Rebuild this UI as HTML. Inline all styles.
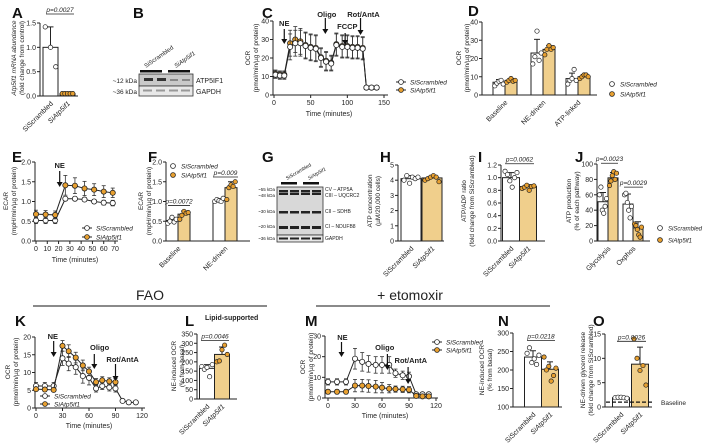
<!DOCTYPE html>
<html><head><meta charset="utf-8"><style>
html,body{margin:0;padding:0;background:#fff;width:705px;height:446px;overflow:hidden}
svg{font-family:"Liberation Sans",Arial,sans-serif;display:block}
</style></head><body>
<svg id="fig" width="705" height="446" viewBox="0 0 705 446" xmlns="http://www.w3.org/2000/svg"></svg>
<script>
// ---------- DATA ----------
const groups = ["SiScrambled", "SiAtp5if1"];
// A
const aMeans = [1.0, 0.05];
const aErr = [0.42, 0.01];
const aDots = [[1.42, 1.0, 0.6], [0.05, 0.05, 0.05, 0.05, 0.05]];
const aTicks = [0, 0.5, 1.0, 1.5];
// C
const cTimes = [2, 8, 14, 22, 29, 36, 43, 50, 57, 64, 71, 78, 85, 93, 100, 107, 114, 121, 126, 133, 140];
const cScr = [11, 10.5, 10.5, 26, 28, 28, 26.5, 25.5, 25, 20, 18, 17, 27, 26, 26, 25.5, 25.5, 25, 4, 4, 4];
const cAtp = [11.5, 11, 11, 28, 30, 29, 27, 26, 25.5, 20.5, 18.5, 17.5, 27.5, 26.5, 26.5, 26, 26, 25.5, 4, 4, 4];
const cErr = [2, 2, 2, 7, 7, 7, 7, 7, 7, 5, 5, 4, 6, 6, 6, 6, 6, 6, 1, 1, 1];
const cTicksY = [0, 10, 20, 30, 40];
const cTicksX = [0, 50, 100, 150];
// D
const dCats = ["Baseline", "NE-driven", "ATP-linked"];
const dScr = [7, 23, 9];
const dAtp = [8, 25, 10];
const dScrErr = [1.5, 7.5, 3];
const dAtpErr = [1, 2, 1.2];
const dScrDots = [[5, 6.5, 7.5, 8, 6], [17, 21, 35, 19, 23], [6, 8, 9, 14, 8]];
const dAtpDots = [[7, 8, 9, 7.5, 8], [22, 25, 27, 25, 26], [9, 10, 11, 11, 10]];
const dTicks = [0, 10, 20, 30, 40];
// E
const eTimes = [0, 8.5, 17, 26, 34.5, 43, 51.5, 60, 68];
const eScr = [0.52, 0.52, 0.52, 1.07, 1.07, 1.05, 1.0, 0.97, 0.96];
const eAtp = [0.68, 0.67, 0.66, 1.41, 1.40, 1.33, 1.30, 1.25, 1.22];
const eErrScr = [0.08, 0.08, 0.08, 0.05, 0.05, 0.05, 0.05, 0.06, 0.07];
const eErrAtp = [0.1, 0.1, 0.1, 0.25, 0.2, 0.18, 0.15, 0.15, 0.12];
const eTicksY = [0, 0.5, 1.0, 1.5, 2.0];
const eTicksX = [0, 10, 20, 30, 40, 50, 60, 70];
// F
const fCats = ["Baseline", "NE-driven"];
const fScr = [0.52, 1.03];
const fAtp = [0.68, 1.35];
const fScrErr = [0.06, 0.04];
const fAtpErr = [0.08, 0.15];
const fScrDots = [[0.45, 0.5, 0.6, 0.48, 0.55], [1.0, 1.05, 1.02, 1.0, 1.08]];
const fAtpDots = [[0.55, 0.65, 0.75, 0.7, 0.72], [1.05, 1.35, 1.42, 1.38, 1.5]];
const fTicks = [0, 0.5, 1.0, 1.5, 2.0];
// H
const hMeans = [4.1, 4.15];
const hErr = [0.2, 0.15];
const hDots = [[4.0, 4.3, 3.8, 4.2, 4.1, 4.2], [4.0, 4.1, 4.2, 4.3, 4.2, 3.9]];
const hTicks = [0, 1, 2, 3, 4, 5];
// I
const iMeans = [1.0, 0.86];
const iErr = [0.08, 0.03];
const iDots = [[1.1, 1.05, 0.95, 0.85, 1.0, 1.08], [0.83, 0.85, 0.88, 0.8, 0.86, 0.87]];
const iTicks = [0, 0.2, 0.4, 0.6, 0.8, 1.0, 1.2];
// J
const jCats = ["Glycolysis", "Oxphos"];
const jScr = [51, 48];
const jAtp = [82, 17];
const jScrErr = [12, 13];
const jAtpErr = [7, 8];
const jScrDots = [[60, 70, 40, 36, 45, 55], [60, 62, 50, 40, 30, 45]];
const jAtpDots = [[72, 78, 85, 90, 80, 88], [22, 20, 15, 8, 5, 18]];
const jTicks = [0, 20, 40, 60, 80, 100];
// K
const kTimesScr = [0, 10, 20, 30, 37, 45, 53, 60, 68, 75, 83, 90, 98, 105, 113];
const kScr = [6.2, 6.2, 6.2, 14, 12.5, 11.5, 9, 8.5, 5.5, 6.2, 5.8, 5.5, 2, 1.6, 1.6];
const kErrScr = [1, 1, 1, 2, 2, 2, 2, 2, 1, 1, 1, 1, 0.3, 0.3, 0.3];
const kTimesAtp = [0, 10, 20, 30, 37, 45, 53, 60, 68, 75, 83, 90];
const kAtp = [5.3, 5.2, 5.1, 17.5, 16, 14.2, 12, 10.3, 7.3, 7.8, 7.5, 7.3];
const kErrAtp = [0.5, 0.5, 0.5, 1.5, 1.8, 1.5, 1.5, 1.2, 1, 1, 1, 1];
const kTicksY = [0, 5, 10, 15, 20];
const kTicksX = [0, 30, 60, 90, 120];
// L
const lMeans = [165, 240];
const lErr = [20, 40];
const lDots = [[175, 160, 170, 120, 185], [200, 205, 265, 290, 240]];
const lTicks = [0, 50, 100, 150, 200, 250, 300, 350];
// M
const mTimes = [0, 10, 20, 30, 38, 45, 53, 60, 68, 75, 83, 90, 98, 105, 112];
const mScr = [7.8, 7.8, 7.8, 19, 17.5, 16.5, 16, 16, 16, 12, 11, 10.5, 1.8, 1.8, 1.8];
const mErrScr = [1.5, 1.5, 1.5, 5, 4.5, 4, 4, 4, 4, 2, 2, 2, 0.5, 0.5, 0.5];
const mAtp = [3, 3, 3, 6, 6, 5.8, 5.5, 5, 4.5, 4.3, 4.2, 4, 1, 0.8, 0.8];
const mErrAtp = [1, 1, 1, 3, 3, 3, 3, 2.5, 2, 1.5, 1.5, 1.5, 0.5, 0.5, 0.5];
const mTicksY = [0, 10, 20, 30];
const mTicksX = [0, 30, 60, 90, 120];
// N
const nMeans = [235, 202];
const nErr = [17, 20];
const nDots = [[245, 260, 220, 230, 215, 240], [235, 200, 210, 170, 185, 205]];
const nTicks = [100, 150, 200, 250, 300];
// O
const oMeans = [1.9, 8.8];
const oErr = [0.1, 3.5];
const oDots = [[1.9, 2, 2, 1.9, 1.8], [14, 10, 7.5, 8.5, 4.5]];
const oTicks = [0, 5, 10, 15];
const oBaseline = 1;

// ---------- HELPERS ----------
const NS = "http://www.w3.org/2000/svg";
const svg = document.getElementById("fig");
const ORF = "#f0cf8c", ORD = "#e8a030", GRY = "#333";
function el(tag, attrs, parent) {
  const e = document.createElementNS(NS, tag);
  for (const k in attrs) e.setAttribute(k, attrs[k]);
  (parent || svg).appendChild(e);
  return e;
}
function txt(x, y, s, size, opts, parent) {
  const t = el("text", Object.assign({x: x, y: y, "font-size": size, fill: "#222"}, opts || {}), parent);
  t.textContent = s;
  
  
  return t;
}
function panel(name) {
  const g = el("g", {});
  
  
  return g;
}
function lin(min, max, a, b) { return v => a + (v - min) / (max - min) * (b - a); }
function yAxis(g, x, ys, ticks, fmt, yTop, yBot) {
  const ax = el("line", {x1: x, y1: yTop, x2: x, y2: yBot, stroke: "#222", "stroke-width": 1}, g);
  
  
  ticks.forEach(t => {
    el("line", {x1: x - 3, x2: x, y1: ys(t), y2: ys(t), stroke: "#222"}, g);
    txt(x - 4, ys(t) + 2.5, fmt(t), 7, {"text-anchor": "end", nm: "y-tick-label"}, g);
  });
}
function xAxis(g, x1, x2, y) {
  const ax = el("line", {x1: x1, y1: y, x2: x2, y2: y, stroke: "#222", "stroke-width": 1}, g);
  
  
}
function xTicks(g, xs, ticks, y) {
  ticks.forEach(t => {
    el("line", {x1: xs(t), x2: xs(t), y1: y, y2: y + 3, stroke: "#222"}, g);
    txt(xs(t), y + 10, String(t), 7, {"text-anchor": "middle", nm: "x-tick-label"}, g);
  });
}
function yTitle(g, x, y, lines) {
  lines.forEach((l, i) => {
    const t = txt(0, 0, l, 6.5, {"text-anchor": "middle", transform: `translate(${x + i * 8},${y}) rotate(-90)`, nm: "y-axis-title"}, g);
    if (l.indexOf("Atp5if1") >= 0) t.setAttribute("font-style", "italic");
  });
}
function rotLabel(g, x, y, s, italic) {
  const t = txt(0, 0, s, 7, {"text-anchor": "end", transform: `translate(${x + 3},${y + 5}) rotate(-45)`, nm: "category-label"}, g);
  if (italic) t.setAttribute("font-style", "italic");
}
function bar(g, cx, w, ys, v, err, fill, name) {
  const r = el("rect", {x: cx - w / 2, y: ys(v), width: w, height: ys.base - ys(v), fill: fill, stroke: "#222", "stroke-width": 1}, g);
  
  
  el("line", {x1: cx, x2: cx, y1: ys(v), y2: ys(v + err), stroke: "#222"}, g);
  el("line", {x1: cx - 3, x2: cx + 3, y1: ys(v + err), y2: ys(v + err), stroke: "#222"}, g);
}
function dots(g, cx, w, ys, vals, fill) {
  vals.forEach((v, i) => {
    const off = (i - (vals.length - 1) / 2) * (w * 0.7 / Math.max(1, vals.length - 1));
    const c = el("circle", {cx: cx + off, cy: ys(v), r: 2.2, fill: fill, stroke: "#222", "stroke-width": 0.7}, g);
    
    
  });
}
function pval(g, x1, x2, y, s) {
  el("line", {x1: x1, x2: x2, y1: y, y2: y, stroke: "#222", "stroke-width": 0.8}, g);
  txt((x1 + x2) / 2, y - 2, s, 6.5, {"text-anchor": "middle", "font-style": "italic", nm: "p-value"}, g);
}
function series(g, xs, ys, times, vals, errs, fill, name) {
  times.forEach((t, i) => {
    el("line", {x1: xs(t), x2: xs(t), y1: ys(vals[i] - errs[i]), y2: ys(vals[i] + errs[i]), stroke: GRY, "stroke-width": 0.8}, g);
    el("line", {x1: xs(t) - 2, x2: xs(t) + 2, y1: ys(vals[i] + errs[i]), y2: ys(vals[i] + errs[i]), stroke: GRY, "stroke-width": 0.8}, g);
    el("line", {x1: xs(t) - 2, x2: xs(t) + 2, y1: ys(vals[i] - errs[i]), y2: ys(vals[i] - errs[i]), stroke: GRY, "stroke-width": 0.8}, g);
  });
  const pl = el("polyline", {points: times.map((t, i) => xs(t) + "," + ys(vals[i])).join(" "), fill: "none", stroke: "#222", "stroke-width": 1}, g);
  
  
  times.forEach((t, i) => {
    const c = el("circle", {cx: xs(t), cy: ys(vals[i]), r: 2.6, fill: fill, stroke: "#222", "stroke-width": 0.8}, g);
    
    
  });
}
function arrow(g, x, y1, y2, label, lx, ly) {
  el("line", {x1: x, x2: x, y1: y1, y2: y2 - 4, stroke: "#111", "stroke-width": 1.2}, g);
  el("polygon", {points: `${x - 3},${y2 - 5} ${x + 3},${y2 - 5} ${x},${y2}`, fill: "#111"}, g);
  if (label) txt(lx !== undefined ? lx : x, ly !== undefined ? ly : y1 - 2, label, 7.5, {"text-anchor": "middle", "font-weight": "bold", nm: "treatment-arrow-label"}, g);
}
function legendLine(g, x, y, s, fill) {
  el("line", {x1: x, x2: x + 10, y1: y, y2: y, stroke: "#222"}, g);
  el("circle", {cx: x + 5, cy: y, r: 2.4, fill: fill, stroke: "#222", "stroke-width": 0.8}, g);
  txt(x + 14, y + 2.5, s, 6.5, {"font-style": "italic", nm: "legend-entry"}, g);
}
function legendDot(g, x, y, s, fill, size) {
  el("circle", {cx: x, cy: y, r: 2.4, fill: fill, stroke: "#222", "stroke-width": 0.8}, g);
  txt(x + 8, y + 2.5, s, size || 6.5, {"font-style": "italic", nm: "legend-entry"}, g);
}
function letter(g, x, y, s) {
  txt(x, y, s, 15, {"font-weight": "bold", fill: "#111", nm: "panel-letter"}, g);
}
function fmt1(t) { return t.toFixed(1); }
function fmtI(t) { return String(t); }
function twoBar(g, xAx, yTop, yBot, min, max, ticks, fmt, xe, centers, w, means, errs, dd) {
  const ys = lin(min, max, yBot, yTop); ys.base = yBot;
  yAxis(g, xAx, ys, ticks, fmt, yTop, yBot);
  xAxis(g, xAx, xe, yBot);
  [ "#fff", ORF ].forEach((f, i) => {
    bar(g, centers[i], w, ys, means[i], errs[i], f, "bar-" + groups[i].toLowerCase());
    dots(g, centers[i], w, ys, dd[i], i ? ORD : "#fff");
    rotLabel(g, centers[i], yBot + 3, groups[i], i === 1);
  });
  return ys;
}
function groupedBar(g, xAx, yTop, yBot, min, max, ticks, fmt, xe, cats, centers, w, s1, s2, e1, e2, d1, d2) {
  const ys = lin(min, max, yBot, yTop); ys.base = yBot;
  yAxis(g, xAx, ys, ticks, fmt, yTop, yBot);
  xAxis(g, xAx, xe, yBot);
  cats.forEach((c, i) => {
    bar(g, centers[i] - w / 2, w, ys, s1[i], e1[i], "#fff", "bar-scrambled-" + c.toLowerCase());
    bar(g, centers[i] + w / 2, w, ys, s2[i], e2[i], ORF, "bar-atp5if1-" + c.toLowerCase());
    dots(g, centers[i] - w / 2, w, ys, d1[i], "#fff");
    dots(g, centers[i] + w / 2, w, ys, d2[i], ORD);
    rotLabel(g, centers[i], yBot + 3, c, false);
  });
  return ys;
}

// ---------- PANEL A ----------
let g = panel("panel-a");
letter(g, 12, 18, "A");
let ys = twoBar(g, 40, 23, 96, 0, 1.5, aTicks, fmt1, 78, [50.5, 67.5], 15, aMeans, aErr, aDots);
pval(g, 46, 74, 14, "p=0.0027");
yTitle(g, 16, 58, ["Atp5if1 mRNA abundance", "(fold change from control)"]);

// ---------- PANEL B ----------
g = panel("panel-b");
letter(g, 133, 18, "B");
el("rect", {x: 139, y: 74, width: 54, height: 12, fill: "#c9c9c9", stroke: "#333", "stroke-width": 0.8}, g);
el("rect", {x: 139, y: 86, width: 54, height: 10, fill: "#e8e8e8", stroke: "#333", "stroke-width": 0.8}, g);
[144, 157].forEach(x => el("rect", {x: x, y: 78, width: 9, height: 3, fill: "#333"}, g));
[170, 182].forEach(x => el("rect", {x: x, y: 79, width: 8, height: 2, fill: "#888"}, g));
[143, 156, 169, 181].forEach(x => el("rect", {x: x, y: 89.5, width: 9, height: 2, fill: "#999"}, g));
el("rect", {x: 140, y: 70, width: 22, height: 2.5, fill: "#111"}, g);
el("rect", {x: 168, y: 70, width: 22, height: 2.5, fill: "#111"}, g);
txt(0, 0, "SiScrambled", 6, {transform: "translate(146,68) rotate(-35)", nm: "lane-label"}, g);
txt(0, 0, "SiAtp5if1", 6, {transform: "translate(176,68) rotate(-35)", "font-style": "italic", nm: "lane-label"}, g);
txt(137, 83, "~12 kDa", 6.5, {"text-anchor": "end", nm: "kda-label"}, g);
txt(137, 94, "~36 kDa", 6.5, {"text-anchor": "end", nm: "kda-label"}, g);
txt(196, 83, "ATP5IF1", 7, {nm: "protein-label"}, g);
txt(196, 94, "GAPDH", 7, {nm: "protein-label"}, g);

// ---------- PANEL C ----------
g = panel("panel-c");
letter(g, 262, 18, "C");
let xs = lin(0, 150, 274, 384);
ys = lin(0, 40, 95, 21);
yAxis(g, 273, ys, cTicksY, fmtI, 21, 95);
xAxis(g, 273, 388, 95);
xTicks(g, xs, cTicksX, 95);
txt(329, 116, "Time (minutes)", 7, {"text-anchor": "middle", nm: "x-axis-title"}, g);
yTitle(g, 250, 58, ["OCR", "(pmol/min/µg of protein)"]);
series(g, xs, ys, cTimes, cAtp, cErr, ORD, "atp5if1");
series(g, xs, ys, cTimes, cScr, cErr, "#fff", "scrambled");
arrow(g, xs(14), 29, 44, "NE", xs(14), 26);
arrow(g, xs(70), 18, 34, "Oligo", xs(72), 17);
arrow(g, xs(97), 33, 45, "FCCP", xs(100), 29);
arrow(g, xs(118), 18, 35, "Rot/AntA", xs(122), 17);
legendLine(g, 396, 82, "SiScrambled", "#fff");
legendLine(g, 396, 90, "SiAtp5if1", ORD);

// ---------- PANEL D ----------
g = panel("panel-d");
letter(g, 468, 16, "D");
groupedBar(g, 482, 22, 95, 0, 40, dTicks, fmtI, 597, dCats, [505, 543, 578], 12, dScr, dAtp, dScrErr, dAtpErr, dScrDots, dAtpDots);
yTitle(g, 461, 58, ["OCR", "(pmol/min/µg of protein)"]);
legendDot(g, 612, 84, "SiScrambled", "#fff");
legendDot(g, 612, 94, "SiAtp5if1", ORD);

// ---------- PANEL E ----------
g = panel("panel-e");
letter(g, 12, 162, "E");
xs = lin(0, 70, 36, 115);
ys = lin(0, 2.0, 241, 162);
yAxis(g, 35, ys, eTicksY, fmt1, 162, 241);
xAxis(g, 35, 118, 241);
xTicks(g, xs, eTicksX, 241);
txt(75, 262, "Time (minutes)", 7, {"text-anchor": "middle", nm: "x-axis-title"}, g);
yTitle(g, 8, 201, ["ECAR", "(mpH/min/µg of protein)"]);
series(g, xs, ys, eTimes, eScr, eErrScr, "#fff", "scrambled");
series(g, xs, ys, eTimes, eAtp, eErrAtp, ORD, "atp5if1");
arrow(g, xs(21), 171, 187, "NE", xs(21), 168);
legendLine(g, 82, 228, "SiScrambled", "#fff");
legendLine(g, 82, 237, "SiAtp5if1", ORD);

// ---------- PANEL F ----------
g = panel("panel-f");
letter(g, 148, 162, "F");
ys = groupedBar(g, 166, 162, 241, 0, 2.0, fTicks, fmt1, 250, fCats, [178, 225], 12, fScr, fAtp, fScrErr, fAtpErr, fScrDots, fAtpDots);
yTitle(g, 143, 201, ["ECAR", "(mpH/min/µg of protein)"]);
pval(g, 168, 190, ys(0.9), "p=0.0072");
pval(g, 213, 238, ys(1.62), "p=0.009");
legendDot(g, 173, 166, "SiScrambled", "#fff");
legendDot(g, 173, 175, "SiAtp5if1", ORD);

// ---------- PANEL G ----------
g = panel("panel-g");
letter(g, 262, 162, "G");
el("rect", {x: 277, y: 187, width: 46, height: 48, fill: "#d8d8d8", stroke: "#333", "stroke-width": 0.8}, g);
el("rect", {x: 277, y: 235, width: 46, height: 7, fill: "#e6e6e6", stroke: "#333", "stroke-width": 0.8}, g);
[[190, 2.5], [193, 2], [211, 2.5], [226, 3], [237.5, 2]].forEach(b => {
  [279, 290, 301, 312].forEach(x => el("rect", {x: x, y: b[0], width: 9, height: b[1], fill: "#222"}, g));
});
el("rect", {x: 281, y: 182, width: 16, height: 2.5, fill: "#111"}, g);
el("rect", {x: 303, y: 182, width: 16, height: 2.5, fill: "#111"}, g);
txt(0, 0, "SiScrambled", 5, {transform: "translate(287,180) rotate(-30)", nm: "lane-label"}, g);
txt(0, 0, "SiAtp5if1", 5, {transform: "translate(309,180) rotate(-30)", "font-style": "italic", nm: "lane-label"}, g);
[["~55 kDa", 191], ["~48 kDa", 197], ["~30 kDa", 213], ["~20 kDa", 228], ["~36 kDa", 240]].forEach(l => txt(275, l[1], l[0], 4.5, {"text-anchor": "end", nm: "kda-label"}, g));
[["CV – ATP5A", 191], ["CIII – UQCRC2", 197], ["CII – SDHB", 213], ["CI – NDUFB8", 228], ["GAPDH", 240]].forEach(l => txt(325, l[1], l[0], 5, {nm: "protein-label"}, g));

// ---------- PANEL H ----------
g = panel("panel-h");
letter(g, 380, 162, "H");
twoBar(g, 398, 165, 241, 0, 5, hTicks, fmtI, 444, [411, 432], 20, hMeans, hErr, hDots);
yTitle(g, 372, 201, ["ATP concentration", "(µM/20,000 cells)"]);

// ---------- PANEL I ----------
g = panel("panel-i");
letter(g, 478, 162, "I");
ys = twoBar(g, 501, 165, 241, 0, 1.2, iTicks, fmt1, 545, [511, 528], 17, iMeans, iErr, iDots);
yTitle(g, 466, 201, ["ATP/ADP ratio", "(fold change from SiScrambled)"]);
pval(g, 505, 534, ys(1.22), "p=0.0062");

// ---------- PANEL J ----------
g = panel("panel-j");
letter(g, 575, 162, "J");
ys = groupedBar(g, 597, 164, 241, 0, 100, jTicks, fmtI, 650, jCats, [608, 633], 10, jScr, jAtp, jScrErr, jAtpErr, jScrDots, jAtpDots);
yTitle(g, 571, 201, ["ATP production", "(% of each pathway)"]);
pval(g, 601, 618, ys(101), "p=0.0023");
pval(g, 624, 643, ys(70), "p=0.0029");
legendDot(g, 660, 228, "SiScrambled", "#fff", 6);
legendDot(g, 660, 240, "SiAtp5if1", ORD, 6);

// ---------- SECTION HEADERS ----------
g = panel("section-headers");
el("line", {x1: 33, x2: 267, y1: 306, y2: 306, stroke: "#444", "stroke-width": 1.2}, g);
el("line", {x1: 316, x2: 550, y1: 306, y2: 306, stroke: "#444", "stroke-width": 1.2}, g);
txt(150, 300, "FAO", 14, {"text-anchor": "middle", nm: "fao-header"}, g);
txt(410, 300, "+ etomoxir", 14, {"text-anchor": "middle", nm: "etomoxir-header"}, g);

// ---------- PANEL K ----------
g = panel("panel-k");
letter(g, 15, 326, "K");
xs = lin(0, 120, 36, 142);
ys = lin(0, 20, 408, 337);
yAxis(g, 35, ys, kTicksY, fmtI, 337, 408);
xAxis(g, 35, 145, 408);
xTicks(g, xs, kTicksX, 408);
txt(89, 428, "Time (minutes)", 7, {"text-anchor": "middle", nm: "x-axis-title"}, g);
yTitle(g, 10, 372, ["OCR", "(pmol/min/µg of protein)"]);
series(g, xs, ys, kTimesScr, kScr, kErrScr, "#fff", "scrambled");
series(g, xs, ys, kTimesAtp, kAtp, kErrAtp, ORD, "atp5if1");
arrow(g, xs(20), 341, 357, "NE", xs(19), 339);
arrow(g, xs(66), 354, 369, "Oligo", xs(72), 350);
arrow(g, xs(90), 364, 381, "Rot/AntA", xs(98), 362);
legendLine(g, 40, 396, "SiScrambled", "#fff");
legendLine(g, 40, 404, "SiAtp5if1", ORD);

// ---------- PANEL L ----------
g = panel("panel-l");
letter(g, 185, 326, "L");
txt(205, 320, "Lipid-supported", 7, {"font-weight": "bold", nm: "panel-subtitle"}, g);
ys = twoBar(g, 197, 334, 399, 0, 350, lTicks, fmtI, 237, [207, 222], 15, lMeans, lErr, lDots);
yTitle(g, 176, 366, ["NE-induced OCR", "(% from basal)"]);
pval(g, 201, 229, ys(315), "p=0.0046");

// ---------- PANEL M ----------
g = panel("panel-m");
letter(g, 305, 326, "M");
xs = lin(0, 120, 328, 436);
ys = lin(0, 30, 398, 336);
yAxis(g, 325, ys, mTicksY, fmtI, 336, 398);
xAxis(g, 325, 438, 398);
xTicks(g, xs, mTicksX, 398);
txt(385, 418, "Time (minutes)", 7, {"text-anchor": "middle", nm: "x-axis-title"}, g);
yTitle(g, 305, 367, ["OCR", "(pmol/min/µg of protein)"]);
series(g, xs, ys, mTimes, mScr, mErrScr, "#fff", "scrambled");
series(g, xs, ys, mTimes, mAtp, mErrAtp, ORD, "atp5if1");
arrow(g, xs(15), 342, 357, "NE", xs(16), 340);
arrow(g, xs(66), 354, 370, "Oligo", xs(63), 350);
arrow(g, xs(89), 367, 384, "Rot/AntA", xs(92), 363);
legendLine(g, 432, 342, "SiScrambled", "#fff");
legendLine(g, 432, 350, "SiAtp5if1", ORD);

// ---------- PANEL N ----------
g = panel("panel-n");
letter(g, 498, 326, "N");
ys = twoBar(g, 513, 333, 407, 100, 300, nTicks, fmtI, 562, [533, 550], 17, nMeans, nErr, nDots);
yTitle(g, 484, 370, ["NE-induced OCR", "(% from basal)"]);
pval(g, 527, 555, ys(280), "p=0.0218");

// ---------- PANEL O ----------
g = panel("panel-o");
letter(g, 593, 326, "O");
ys = twoBar(g, 605, 334, 407, 0, 15, oTicks, fmtI, 652, [621, 640], 17, oMeans, oErr, oDots);
yTitle(g, 585, 370, ["NE-driven glycerol release", "(fold change from SiScrambled)"]);
pval(g, 617, 646, ys(13.5), "p=0.0026");
const bl = el("line", {x1: 606, x2: 654, y1: ys(oBaseline), y2: ys(oBaseline), stroke: "#111", "stroke-width": 1.2, "stroke-dasharray": "4,2"}, g);


txt(661, 405, "Baseline", 6.5, {nm: "baseline-label"}, g);
</script>
</body></html>
